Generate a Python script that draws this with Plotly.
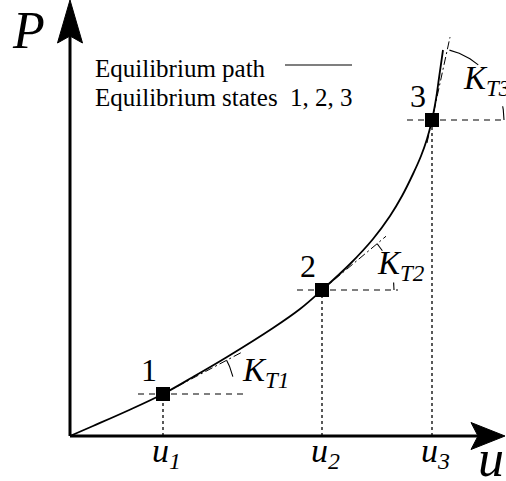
import numpy as np
import plotly.graph_objects as go

# equilibrium path P(u) (u to the right, P upward)
curve_u = [0, 23, 57, 93, 123, 157, 203, 230, 252, 280, 303, 320, 332, 343, 351, 357, 362, 366, 369, 373]
curve_p = [0, 10, 25, 42, 59, 79, 108, 127, 146, 172, 197, 220, 240, 262, 280, 297, 316, 337, 358, 386]

# equilibrium states 1, 2, 3
state_u = [93, 252, 362]
state_p = [42, 146, 316]
state_names = ["1", "2", "3"]
u_ticks = ["u<sub>1</sub>", "u<sub>2</sub>", "u<sub>3</sub>"]
k_labels = ["K<sub>T1</sub>", "K<sub>T2</sub>", "K<sub>T3</sub>"]

# tangent stiffness slopes dP/du at each state
tangent_slope = [0.53, 0.84, 4.6]

u_max, p_max = 435, 436
SERIF = "Liberation Serif, Times New Roman, serif"

fig = go.Figure()


def add_line(x, y, width=1.2, dash=None, shape="linear"):
    fig.add_trace(go.Scatter(x=x, y=y, mode="lines", hoverinfo="skip",
                             line=dict(color="black", width=width, dash=dash, shape=shape)))


def arrow_head(tip_x, tip_y, dx, dy, length, half, notch):
    # stealth style arrow head pointing along (dx, dy)
    nx, ny = -dy, dx
    bx, by = tip_x - dx * length, tip_y - dy * length
    mx, my = tip_x - dx * notch, tip_y - dy * notch
    xs = [tip_x, bx + nx * half, mx, bx - nx * half, tip_x]
    ys = [tip_y, by + ny * half, my, by - ny * half, tip_y]
    fig.add_trace(go.Scatter(x=xs, y=ys, mode="lines", fill="toself", fillcolor="black",
                             line=dict(color="black", width=1), hoverinfo="skip"))


# axes
add_line([0, u_max - 20], [0, 0], width=3)
add_line([0, 0], [0, p_max - 25], width=3)
arrow_head(u_max, 0, 1, 0, 34, 13.5, 27)
arrow_head(0, p_max, 0, 1, 43, 12.5, 36)

# horizontal dashed and vertical dotted guides
guide_right = [176, 328, 440]
for u, p, right in zip(state_u, state_p, guide_right):
    add_line([u - 25, right], [p, p], width=1.2, dash="6px,5px")
    add_line([u, u], [0, p], width=1.3, dash="dot")

# tangent lines
tan_range = [(0, 78), (0, 64), (-5, 18)]
for u, p, k, (a, b) in zip(state_u, state_p, tangent_slope, tan_range):
    add_line([u + a, u + b], [p + k * a, p + k * b], width=1, dash="8px,3px,2px,3px")

# angle arcs between tangent and horizontal
arc_parts = [[(14, 28)], [(33, 40), (0, 6)], [(50, 76), (0, 11)]]
for u, p, parts in zip(state_u, state_p, arc_parts):
    for a0, a1 in parts:
        t = np.radians(np.linspace(a0, a1, 20))
        add_line(u + 72 * np.cos(t), p + 72 * np.sin(t), width=1.1)

# equilibrium path
add_line(curve_u, curve_p, width=1.8, shape="spline")

# states
fig.add_trace(go.Scatter(x=state_u, y=state_p, mode="markers", hoverinfo="skip",
                         marker=dict(symbol="square", size=14, color="black")))

ann = []
for u, p, name, tick, kl, kpos in zip(state_u, state_p, state_names, u_ticks, k_labels,
                                      [(77, 22), (53, 25), (29, 40)]):
    ann.append(dict(x=u - 14, y=p + 24, text=name, font=dict(size=32)))
    ann.append(dict(x=u + 3, y=-17, text="<i>" + tick + "</i>", font=dict(size=34)))
    ann.append(dict(x=u + kpos[0], y=p + kpos[1], text="<i>" + kl + "</i>",
                    xanchor="left", font=dict(size=33)))

ann.append(dict(x=-42, y=406, text="<i>P</i>", font=dict(size=52)))
ann.append(dict(x=421, y=-22, text="<i>u</i>", font=dict(size=52)))
ann.append(dict(x=23, y=368, text="Equilibrium path", xanchor="left", font=dict(size=25)))
ann.append(dict(x=23, y=339, text="Equilibrium states  1, 2, 3", xanchor="left", font=dict(size=25)))
add_line([215, 282], [371, 371], width=1.2)

for a in ann:
    a.setdefault("showarrow", False)
    a["font"] = dict(family=SERIF, color="black", **a["font"])

fig.update_layout(
    width=506, height=481,
    margin=dict(l=0, r=0, t=0, b=0),
    paper_bgcolor="white", plot_bgcolor="white",
    showlegend=False,
    xaxis=dict(range=[-70, 436], visible=False, fixedrange=True),
    yaxis=dict(range=[-45, 436], visible=False, fixedrange=True),
    annotations=ann,
)

fig.write_html("out.html", config={"displayModeBar": False},
               post_script="document.body.style.margin='0';")
